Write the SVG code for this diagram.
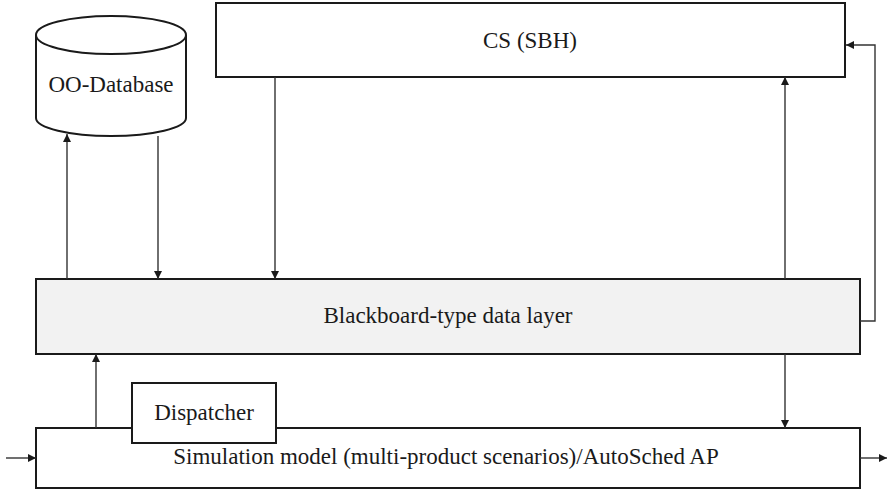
<svg xmlns="http://www.w3.org/2000/svg" width="888" height="489" viewBox="0 0 888 489">
<defs>
<marker id="ah" viewBox="0 0 10 10" refX="10" refY="5" markerWidth="10" markerHeight="8" markerUnits="userSpaceOnUse" orient="auto">
<path d="M0,0 L10,5 L0,10 z" fill="#1a1a1a"/>
</marker>
</defs>
<style>
.box{fill:#fff;stroke:#1a1a1a;stroke-width:2}
.bb{fill:#f2f2f2;stroke:#1a1a1a;stroke-width:2}
.lbl{font-family:"Liberation Serif",serif;font-size:23px;fill:#1a1a1a;text-anchor:middle}
.c{fill:none;stroke:#333;stroke-width:1.4}
.ca{fill:none;stroke:#333;stroke-width:1.4;marker-end:url(#ah)}
</style>
<rect width="888" height="489" fill="#fff"/>
<g id="db">
<path class="box" d="M36,35 L36,118 A75,18 0 0 0 186,118 L186,35 A75,19 0 0 0 36,35 Z"/>
<path class="box" d="M36,35 A75,19 0 0 0 186,35" fill="none"/>
<text class="lbl" x="111" y="92">OO-Database</text>
</g>
<g id="cs">
<rect class="box" x="216" y="3" width="629" height="74"/>
<text class="lbl" x="530" y="48">CS (SBH)</text>
</g>
<g id="blackboard">
<rect class="bb" x="36" y="279" width="824" height="75"/>
<text class="lbl" x="448" y="323">Blackboard-type data layer</text>
</g>
<g id="sim">
<rect class="box" x="36" y="428" width="824" height="60"/>
<text class="lbl" x="446" y="464">Simulation model (multi-product scenarios)/AutoSched AP</text>
</g>
<g id="dispatcher">
<rect class="box" x="132" y="383" width="144" height="60"/>
<text class="lbl" x="204" y="420">Dispatcher</text>
</g>
<g id="connectors">
<path class="ca" d="M67,279 L67,134"/>
<path class="ca" d="M158,136 L158,279"/>
<path class="ca" d="M275,77 L275,279"/>
<path class="ca" d="M785,279 L785,77"/>
<path class="ca" d="M860,321 L875,321 L875,45 L846,45"/>
<path class="ca" d="M96,428 L96,354"/>
<path class="ca" d="M785,354 L785,428"/>
<path class="ca" d="M6,458 L36,458"/>
<path class="ca" d="M860,458 L887,458"/>
</g>
</svg>
